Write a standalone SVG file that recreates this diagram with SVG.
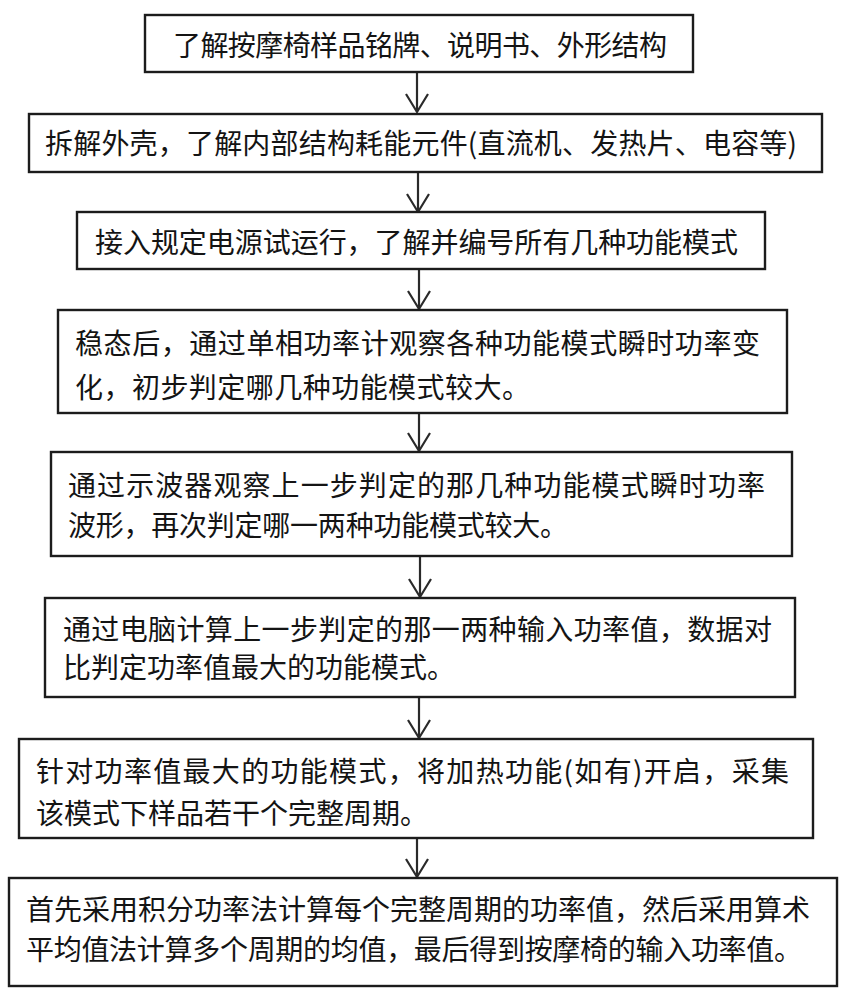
<svg xmlns="http://www.w3.org/2000/svg" width="845" height="997" viewBox="0 0 845 997">
<style>
.box{fill:#ffffff;stroke:#1c1c1c;stroke-width:2.4}
.t{font-family:"Noto Sans CJK SC","Noto Sans CJK JP",sans-serif;font-size:28px;fill:#141414}
.c{stroke:#2a2a2a;stroke-width:2.2;fill:none}
</style>
<defs>
<marker id="ah" markerUnits="userSpaceOnUse" markerWidth="26" markerHeight="30" viewBox="-22 -15 26 30" refX="0" refY="0" orient="auto" overflow="visible">
<path d="M-18,-11 L0,0 L-18,11" fill="none" stroke="#2a2a2a" stroke-width="2.2"/>
</marker>
</defs>
<rect width="845" height="997" fill="#ffffff"/>
<g id="connectors">
<line class="c" x1="417" y1="72" x2="417" y2="112" marker-end="url(#ah)"/>
<line class="c" x1="418" y1="172" x2="418" y2="212" marker-end="url(#ah)"/>
<line class="c" x1="419" y1="269" x2="419" y2="309" marker-end="url(#ah)"/>
<line class="c" x1="419" y1="413" x2="419" y2="451" marker-end="url(#ah)"/>
<line class="c" x1="420" y1="556" x2="420" y2="597" marker-end="url(#ah)"/>
<line class="c" x1="419" y1="697" x2="419" y2="738" marker-end="url(#ah)"/>
<line class="c" x1="417" y1="838" x2="417" y2="877" marker-end="url(#ah)"/>
</g>
<g id="n1">
<rect class="box" x="145" y="15" width="548" height="57"/>
<text class="t" x="173" y="56" textLength="494" lengthAdjust="spacing">了解按摩椅样品铭牌、说明书、外形结构</text>
</g>
<g id="n2">
<rect class="box" x="29" y="114" width="793" height="58"/>
<text class="t" x="45" y="154" textLength="752" lengthAdjust="spacing">拆解外壳，了解内部结构耗能元件(直流机、发热片、电容等)</text>
</g>
<g id="n3">
<rect class="box" x="77" y="212" width="688" height="57"/>
<text class="t" x="95" y="253" textLength="643" lengthAdjust="spacing">接入规定电源试运行，了解并编号所有几种功能模式</text>
</g>
<g id="n4">
<rect class="box" x="58" y="310" width="729" height="103"/>
<text class="t" x="75" y="354" textLength="685" lengthAdjust="spacing">稳态后，通过单相功率计观察各种功能模式瞬时功率变</text>
<text class="t" x="75" y="398" textLength="455" lengthAdjust="spacing">化，初步判定哪几种功能模式较大。</text>
</g>
<g id="n5">
<rect class="box" x="51" y="452" width="741" height="104"/>
<text class="t" x="68" y="496" textLength="697" lengthAdjust="spacing">通过示波器观察上一步判定的那几种功能模式瞬时功率</text>
<text class="t" x="68" y="536" textLength="500" lengthAdjust="spacing">波形，再次判定哪一两种功能模式较大。</text>
</g>
<g id="n6">
<rect class="box" x="45" y="598" width="750" height="99"/>
<text class="t" x="63" y="640" textLength="709" lengthAdjust="spacing">通过电脑计算上一步判定的那一两种输入功率值，数据对</text>
<text class="t" x="63" y="678">比判定功率值最大的功能模式。</text>
</g>
<g id="n7">
<rect class="box" x="19" y="739" width="794" height="99"/>
<text class="t" x="36" y="782" textLength="753" lengthAdjust="spacing">针对功率值最大的功能模式，将加热功能(如有)开启，采集</text>
<text class="t" x="36" y="824">该模式下样品若干个完整周期。</text>
</g>
<g id="n8">
<rect class="box" x="9" y="878" width="828" height="108"/>
<text class="t" x="26" y="920" textLength="784" lengthAdjust="spacing">首先采用积分功率法计算每个完整周期的功率值，然后采用算术</text>
<text class="t" x="26" y="960" textLength="776" lengthAdjust="spacing">平均值法计算多个周期的均值，最后得到按摩椅的输入功率值。</text>
</g>
</svg>
